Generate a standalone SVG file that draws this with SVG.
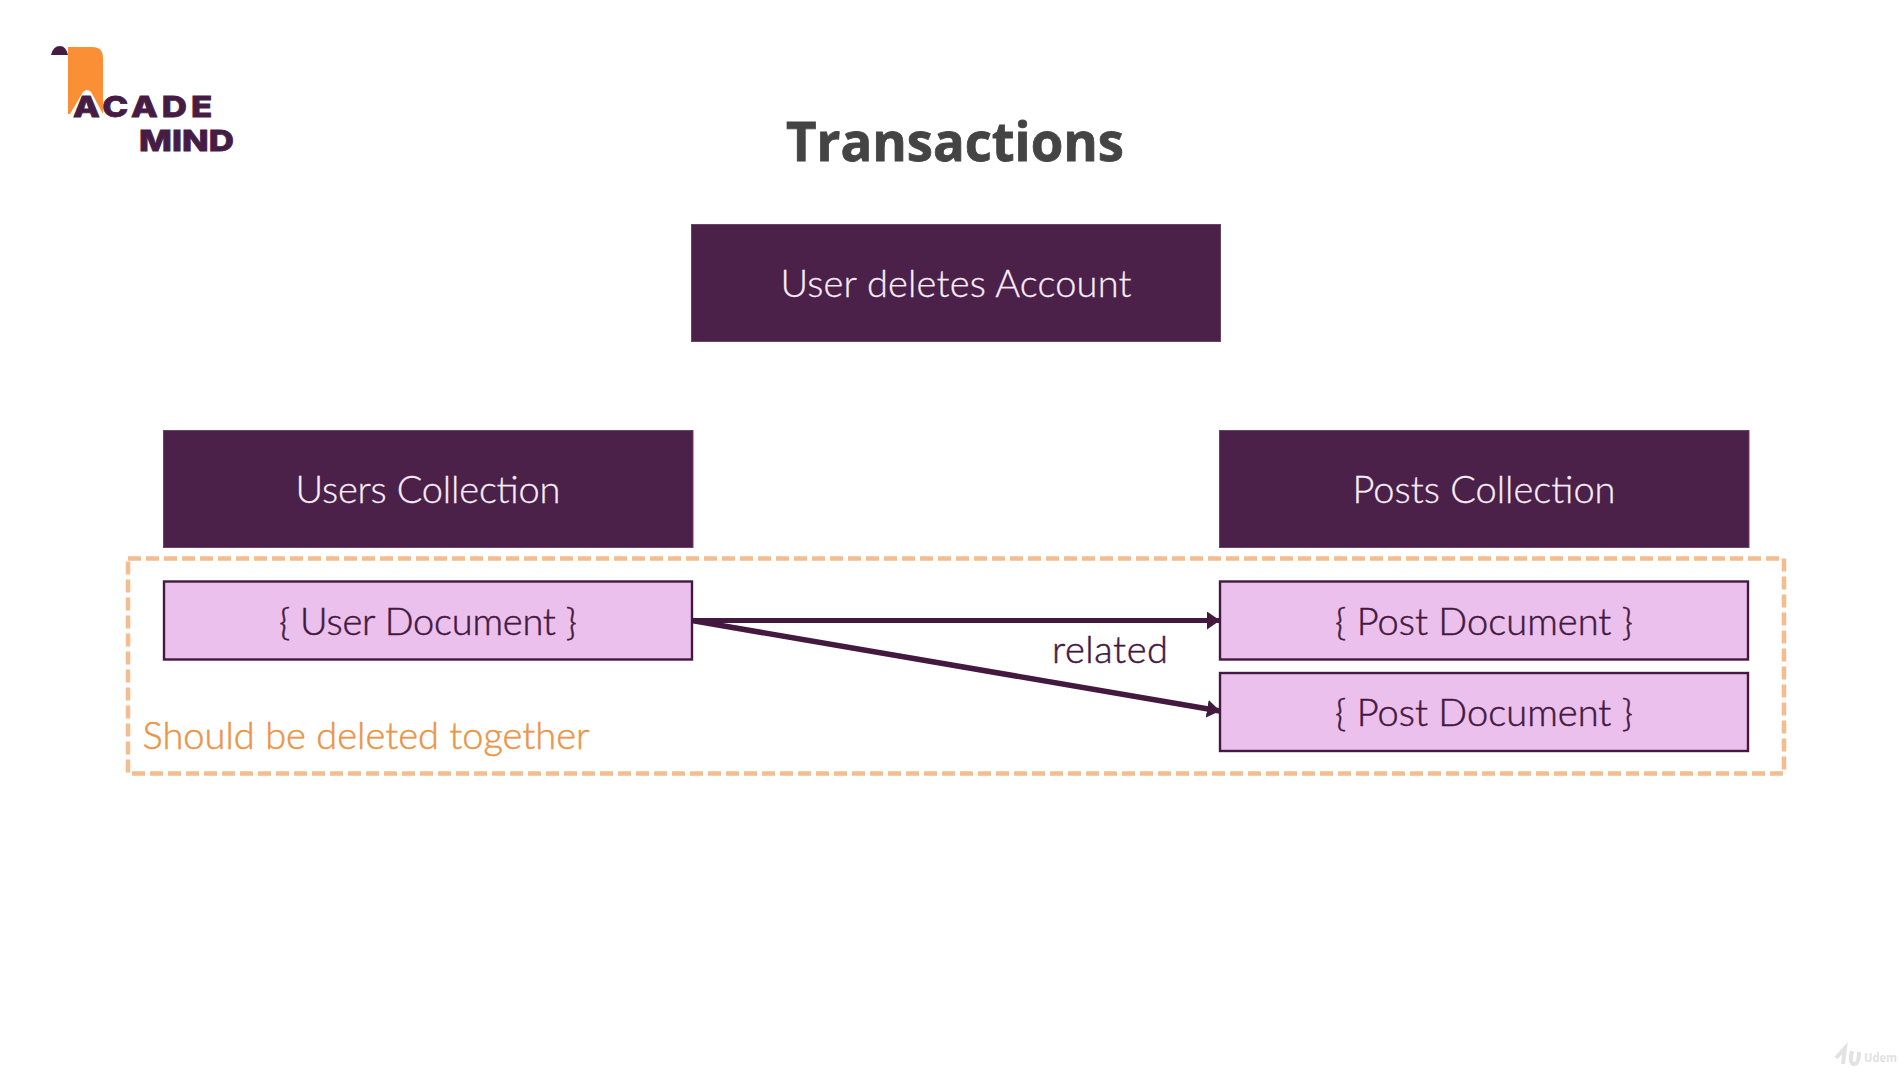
<svg xmlns="http://www.w3.org/2000/svg" width="1901" height="1079" viewBox="0 0 1901 1079">
<defs>
<style>
text{font-family:"Lato","Open Sans",sans-serif;text-anchor:middle;font-weight:300}
.dark{fill:#4b2049;stroke:#6a4467;stroke-width:1}
.doc{fill:#ecc0ec;stroke:#44193f;stroke-width:2.4}
.w{fill:#f8eef8;font-size:38px;stroke:#f8eef8;stroke-width:0.3}
.d{fill:#43193f;font-size:38px;stroke:#43193f;stroke-width:0.5}
.c{stroke:#44193f;fill:none}
.logo{fill:#461c45;stroke:#461c45;stroke-width:0.8;font-family:"Inter",sans-serif;font-weight:800;font-size:29px;text-anchor:start}
</style>
<marker id="arrow" markerUnits="userSpaceOnUse" markerWidth="14" markerHeight="18" refX="13" refY="9" orient="auto">
<path d="M0 0L13 9L0 18Z" fill="#44193f"/>
</marker>
</defs>
<rect width="1901" height="1079" fill="#fff"/>
<g id="logo">
<path d="M68 47H92Q103 47 103 58V114L91 92Q87 88 83 92L70 114H68Z" fill="#fb8f35"/>
<path d="M51 55Q53 46 60 46Q66 46 68 55Z" fill="#461c45"/>
<text class="logo" transform="translate(73 117) scale(1.2 1)" textLength="116" lengthAdjust="spacing">ACADE</text>
<text class="logo" transform="translate(139 151) scale(1.2 1)" textLength="79" lengthAdjust="spacing">MIND</text>
</g>
<g id="title"><text x="955" y="160.500" font-size="54" fill="#444" stroke="#444" stroke-width="0.800" style="font-family:'Open Sans',sans-serif;font-weight:700" textLength="338" lengthAdjust="spacingAndGlyphs">Transactions</text></g>
<g id="scope">
<rect x="128" y="558.500" width="1656" height="215" fill="none" stroke="#f3bd8f" stroke-width="4.500" stroke-dasharray="13 5"/>
<text x="366" y="749" font-size="38" fill="#ea9548" stroke="#ea9548" stroke-width="0.500" textLength="447" lengthAdjust="spacing">Should be deleted together</text>
</g>
<g id="user-deletes"><rect class="dark" x="691.500" y="224.500" width="529" height="117"/><text class="w" x="956" y="297" textLength="351" lengthAdjust="spacing">User deletes Account</text></g>
<g id="users-collection"><rect class="dark" x="163.500" y="430.500" width="529.500" height="117"/><text class="w" x="428" y="503" textLength="265" lengthAdjust="spacing">Users Collection</text></g>
<g id="posts-collection"><rect class="dark" x="1219.500" y="430.500" width="529.500" height="117"/><text class="w" x="1484" y="503" textLength="263" lengthAdjust="spacing">Posts Collection</text></g>
<g id="user-document"><rect class="doc" x="164" y="581.500" width="528" height="78"/><text class="d" x="428" y="635" textLength="298" lengthAdjust="spacing">{ User Document }</text></g>
<g id="post-document-1"><rect class="doc" x="1220" y="581.500" width="528" height="78"/><text class="d" x="1484" y="635" textLength="298" lengthAdjust="spacing">{ Post Document }</text></g>
<g id="post-document-2"><rect class="doc" x="1220" y="673" width="528" height="78"/><text class="d" x="1484" y="726" textLength="298" lengthAdjust="spacing">{ Post Document }</text></g>
<g id="connectors">
<line class="c" stroke-width="5" x1="692" y1="620.500" x2="1220" y2="620.500" marker-end="url(#arrow)"/>
<line class="c" stroke-width="5.500" x1="692" y1="620.500" x2="1220" y2="711" marker-end="url(#arrow)"/>
</g>
<g id="related-label"><text class="d" x="1110" y="663" textLength="116" lengthAdjust="spacing">related</text></g>
<g id="watermark">
<path d="M1836 1058L1845 1048L1843 1064M1852 1051Q1849 1064 1854 1064Q1859 1064 1859 1052" fill="none" stroke="#e2e2e2" stroke-width="4"/>
<text x="1864" y="1062" font-size="13" fill="#e2e2e2" style="text-anchor:start;font-family:'Open Sans',sans-serif;font-weight:700" textLength="33" lengthAdjust="spacingAndGlyphs">Udem</text>
</g>
</svg>
